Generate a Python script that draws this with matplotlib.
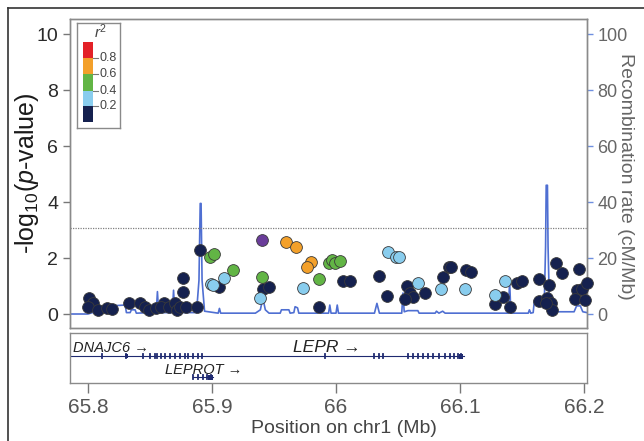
import matplotlib
matplotlib.use("Agg")
import matplotlib.pyplot as plt
from matplotlib.patches import Rectangle
from matplotlib.lines import Line2D
import numpy as np

plt.rcParams['font.family'] = ['Liberation Sans', 'DejaVu Sans']
plt.rcParams['mathtext.fontset'] = 'custom'
plt.rcParams['mathtext.rm'] = 'Liberation Sans'
plt.rcParams['mathtext.it'] = 'Liberation Sans:italic'

# ---------------- data ----------------
navy_pos = [65.801, 65.804, 65.800, 65.808, 65.815, 65.819, 65.833, 65.842, 65.846, 65.849,
            65.855, 65.861, 65.859, 65.865, 65.870, 65.872, 65.874, 65.879, 65.877, 65.877,
            65.888, 65.890, 65.906, 65.941, 65.946, 65.986, 66.006, 66.011, 66.035, 66.041,
            66.057, 66.060, 66.062, 66.056, 66.072, 66.086, 66.091, 66.093, 66.105, 66.109,
            66.128, 66.135, 66.140, 66.146, 66.150, 66.164, 66.172, 66.164, 66.170, 66.173,
            66.174, 66.169, 66.177, 66.182, 66.196, 66.194, 66.198, 66.193, 66.201, 66.202]
navy_logp = [0.58, 0.40, 0.26, 0.14, 0.20, 0.17, 0.38, 0.40, 0.26, 0.14,
             0.22, 0.40, 0.26, 0.26, 0.40, 0.14, 0.26, 0.26, 0.80, 1.27,
             0.26, 2.29, 0.95, 0.88, 0.98, 0.24, 1.18, 1.18, 1.36, 0.64,
             1.01, 0.74, 0.62, 0.52, 0.74, 1.31, 1.69, 1.67, 1.57, 1.51,
             0.36, 0.60, 0.24, 1.12, 1.18, 1.24, 1.04, 0.46, 0.56, 0.38,
             0.15, 0.38, 1.81, 1.48, 1.62, 0.86, 0.88, 0.54, 0.50, 1.10]
lblue_pos = [65.899, 65.901, 65.910, 65.939, 65.973, 66.042, 66.048, 66.051, 66.066, 66.085,
             66.104, 66.128, 66.136]
lblue_logp = [1.07, 1.02, 1.27, 0.58, 0.92, 2.23, 2.05, 2.02, 1.10, 0.91,
              0.91, 0.68, 1.18]
green_pos = [65.898, 65.902, 65.917, 65.940, 65.986, 65.994, 65.997, 65.999, 66.003]
green_logp = [2.05, 2.14, 1.57, 1.33, 1.24, 1.81, 1.93, 1.83, 1.90]
orange_pos = [65.960, 65.968, 65.980, 65.977]
orange_logp = [2.58, 2.40, 1.85, 1.67]
lead_pos = [65.940]
lead_logp = [2.64]

# recombination rate (cM/Mb)
recomb_pos = [65.7855, 65.800, 65.822, 65.830, 65.831, 65.834, 65.835, 65.838, 65.839, 65.845,
              65.855, 65.856, 65.857, 65.868, 65.869, 65.870, 65.8875, 65.8895, 65.8905, 65.8912,
              65.892, 65.894, 65.905, 65.906, 65.907, 65.935, 65.939, 65.941, 65.943, 65.946,
              65.955, 65.956, 65.962, 65.963, 65.966, 65.967, 65.969, 65.970, 65.985, 65.986,
              65.988, 65.994, 65.995, 65.996, 66.000, 66.001, 66.002, 66.031, 66.033, 66.035,
              66.053, 66.054, 66.055, 66.058, 66.066, 66.067, 66.080, 66.081, 66.083, 66.086,
              66.088, 66.139, 66.140, 66.141, 66.155, 66.156, 66.157, 66.159, 66.160, 66.166,
              66.168, 66.169, 66.1695, 66.1705, 66.171, 66.172, 66.175, 66.192, 66.194, 66.197,
              66.199, 66.2024]
recomb_rate = [0.0, 0.0, 3.0, 3.2, 0.5, 0.5, 1.5, 1.5, 0.3, 0.4,
               0.4, 8.0, 0.5, 0.5, 8.5, 0.5, 0.5, 12.0, 39.5, 39.5,
               12.0, 1.0, 0.3, 2.0, 0.3, 0.3, 1.5, 5.7, 1.5, 0.3,
               0.3, 1.5, 1.5, 0.3, 0.5, 2.6, 2.2, 0.3, 0.3, 1.5,
               0.3, 0.3, 3.2, 0.3, 0.3, 3.2, 0.3, 0.3, 3.8, 0.3,
               0.3, 7.5, 0.8, 1.2, 1.2, 0.3, 0.3, 1.0, 0.3, 1.0,
               0.3, 0.3, 12.0, 0.3, 0.3, 1.5, 0.3, 0.5, 5.0, 4.0,
               5.0, 24.0, 46.0, 46.0, 24.0, 5.0, 0.8, 0.8, 2.9, 2.9,
               0.8, 0.5]

threshold = 3.06

# genes
gene_main_start, gene_main_end = 65.7855, 66.103
main_exons = [65.811, 65.831, 65.844, 65.850, 65.854, 65.856, 65.859, 65.862, 65.866,
              65.870, 65.874, 65.878, 65.881, 65.885, 65.889, 65.892, 65.991, 66.031,
              66.035, 66.038, 66.058, 66.062, 66.066, 66.070, 66.074, 66.078, 66.083,
              66.088, 66.092, 66.095, 66.098, 66.101]
leprot_start, leprot_end = 65.885, 65.901
leprot_exons = [65.885, 65.889, 65.893, 65.896, 65.899]

xticks = [65.8, 65.9, 66.0, 66.1, 66.2]
xticklabels = ['65.8', '65.9', '66', '66.1', '66.2']

colors = {'navy': '#15214f', 'lblue': '#89cdee', 'green': '#62b545',
          'orange': '#f3a02a', 'red': '#e32127', 'lead': '#6a3d9a'}

# ---------------- figure ----------------
W, H = 644, 441
fig = plt.figure(figsize=(W / 100, H / 100), dpi=100)

def px_rect(x0, y0, x1, y1):
    return [x0 / W, 1 - y1 / H, (x1 - x0) / W, (y1 - y0) / H]

xlim = (65.7855, 66.2024)
ax = fig.add_axes(px_rect(70, 19, 587, 328))
ax.set_xlim(*xlim)
ax.set_ylim(-0.5, 10.54)
ax2 = ax.twinx()
ax2.set_ylim(-5, 105.4)

ax2.plot(recomb_pos, recomb_rate, color='#4f6fd2', lw=1.2, zorder=1)
ax.axhline(threshold, color='#808080', lw=0.9, ls=(0, (1, 1)), zorder=1)

ax.set_zorder(ax2.get_zorder() + 1)
ax.patch.set_visible(False)

kw = dict(s=72, edgecolors='#3a3a3a', linewidths=0.6, clip_on=False, zorder=3)
ax.scatter(navy_pos, navy_logp, c=colors['navy'], **kw)
ax.scatter(lblue_pos, lblue_logp, c=colors['lblue'], **kw)
ax.scatter(green_pos, green_logp, c=colors['green'], **kw)
ax.scatter(orange_pos, orange_logp, c=colors['orange'], **kw)
ax.scatter(lead_pos, lead_logp, c=colors['lead'], **kw)

spine_col = '#8a8a8a'
for a in (ax, ax2):
    for s in a.spines.values():
        s.set_color(spine_col)
        s.set_linewidth(1.0)

ax.set_xticks([])
ax.set_yticks([0, 2, 4, 6, 8, 10])
ax.tick_params(axis='y', colors='#777777', labelcolor='#2a2a2a', labelsize=14, length=5, width=1)
ax2.set_yticks([0, 20, 40, 60, 80, 100])
ax2.tick_params(axis='y', colors='#6f8fe0', labelcolor='#666666', labelsize=13, length=4, width=1)

ax.set_ylabel(r'-log$_{10}$($\mathit{p}$-value)', fontsize=18, color='#1a1a1a')
ax.yaxis.set_label_coords(-0.056, 0.5)
ax2.set_ylabel('Recombination rate (cM/Mb)', fontsize=14, color='#666666', rotation=270, va='center')
ax2.yaxis.set_label_coords(1.075, 0.49)

# legend box
lg = fig.add_axes(px_rect(77, 23, 120, 128))
lg.set_xlim(77, 120)
lg.set_ylim(128, 23)
lg.set_xticks([]); lg.set_yticks([])
for s in lg.spines.values():
    s.set_color(spine_col); s.set_linewidth(1.0)
bands = [(41.7, 58.3, colors['red']), (58.3, 74.3, colors['orange']),
         (74.3, 90.7, colors['green']), (90.7, 106.0, colors['lblue']),
         (106.0, 121.7, colors['navy'])]
for y0, y1, c in bands:
    lg.add_patch(Rectangle((82.7, y0), 10, y1 - y0, facecolor=c, edgecolor='none'))
for yv, lab in [(58.3, '0.8'), (74.3, '0.6'), (90.7, '0.4'), (106.0, '0.2')]:
    lg.plot([92.7, 98], [yv, yv], color='#777777', lw=0.8)
    lg.text(99, yv, lab, fontsize=9, color='#444444', va='center', ha='left')
lg.text(100.5, 32, r'$r^2$', fontsize=11, color='#444444', va='center', ha='center')

# gene panel
gx = fig.add_axes(px_rect(70, 333, 587, 383))
gx.set_xlim(*xlim)
gx.set_ylim(0, 1)
for s in gx.spines.values():
    s.set_color(spine_col); s.set_linewidth(1.0)
gx.set_yticks([])
gx.set_xticks(xticks)
gx.set_xticklabels(xticklabels)
gx.tick_params(axis='x', colors='#777777', labelcolor='#555555', labelsize=15, length=7, width=1, pad=4)
gc = '#1f2a70'
gy = 0.54
gx.plot([gene_main_start, gene_main_end], [gy, gy], color=gc, lw=0.8)
for e in main_exons:
    gx.plot([e, e], [gy - 0.04, gy + 0.04], color=gc, lw=1.3)
gx.add_patch(Rectangle((66.099, gy - 0.05), 0.0035, 0.1, facecolor=gc, edgecolor='none'))
gx.add_patch(Rectangle((65.830, gy - 0.04), 0.0025, 0.08, facecolor=gc, edgecolor='none'))
ly = 0.12
gx.plot([leprot_start, leprot_end], [ly, ly], color=gc, lw=0.8)
for e in leprot_exons:
    gx.plot([e, e], [ly - 0.04, ly + 0.04], color=gc, lw=1.3)
gx.add_patch(Rectangle((65.897, ly - 0.05), 0.004, 0.1, facecolor=gc, edgecolor='none'))
gx.text(65.788, 0.70, 'DNAJC6 \u2192', fontsize=10.5, style='italic', color='#222222', va='center')
gx.text(65.965, 0.70, 'LEPR \u2192', fontsize=12.5, style='italic', color='#222222', va='center')
gx.text(65.862, 0.27, 'LEPROT \u2192', fontsize=10.5, style='italic', color='#222222', va='center')

gx.set_xlabel('Position on chr1 (Mb)', fontsize=14, color='#444444')
gx.xaxis.set_label_coords(0.53, -0.74)

# outer frame
fig.add_artist(Line2D([8 / W, 8 / W], [0, 1 - 8 / H], color='#333333', lw=1.2))
fig.add_artist(Line2D([8 / W, 1], [1 - 8 / H, 1 - 8 / H], color='#333333', lw=1.2))

fig.savefig('out.png', dpi=100)
